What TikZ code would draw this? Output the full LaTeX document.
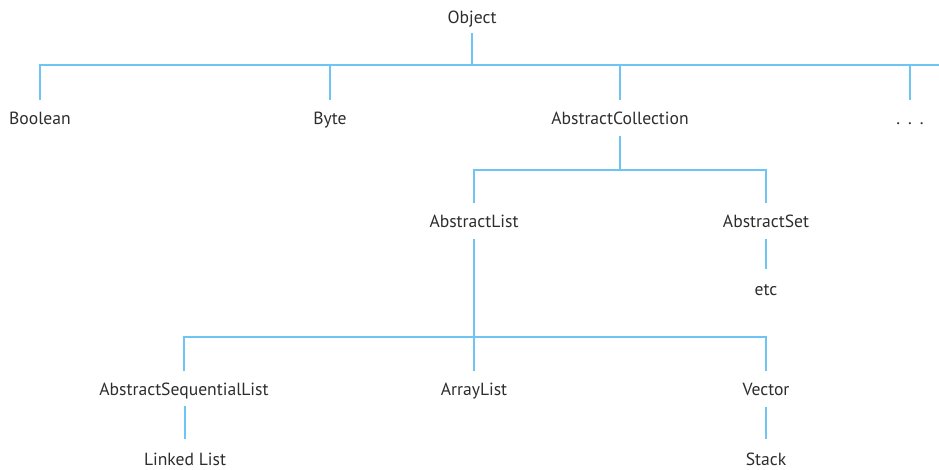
\documentclass[tikz,border=0pt]{standalone}
\usepackage{fontspec}
\setmainfont{PT Sans}
\definecolor{linecol}{RGB}{110,196,242}
\definecolor{txtcol}{RGB}{45,45,45}
\begin{document}
\begin{tikzpicture}[x=1pt,y=-1pt,
  lbl/.style={inner sep=0pt, minimum height=35pt, text=txtcol, font=\fontsize{17.6}{20}\selectfont, text height=12.5pt, text depth=0pt},
  conn/.style={draw=linecol, line width=1.9pt}]
\useasboundingbox (0,0) rectangle (939,470);
\node[lbl, minimum height=32pt] (obj) at (472,17) {Object};
\node[lbl] (bool) at (40,118) {Boolean};
\node[lbl] (byte) at (330,118) {Byte};
\node[lbl] (ac) at (620,118) {AbstractCollection};
\node[lbl] (dots) at (910,118) {.\hspace{0.45em}.\hspace{0.45em}.};
\node[lbl] (al) at (474,221) {AbstractList};
\node[lbl] (as) at (766,221) {AbstractSet};
\node[lbl, minimum height=40pt] (etc) at (766,289) {etc};
\node[lbl] (asl) at (184,389) {AbstractSequentialList};
\node[lbl] (arr) at (474,389) {ArrayList};
\node[lbl] (vec) at (766,389) {Vector};
\node[lbl, minimum height=40pt] (ll) at (185,459) {Linked List};
\node[lbl, minimum height=40pt] (stk) at (766,459) {Stack};
\coordinate (b1) at (939,65);
\coordinate (b2) at (766,170);
\coordinate (b3) at (766,337);
% level 1
\draw[conn] (obj.south) -- (obj.south |- b1);
\draw[conn] (bool.north) -- (bool.north |- b1) -- (b1);
\draw[conn] (byte.north) -- (byte.north |- b1);
\draw[conn] (ac.north) -- (ac.north |- b1);
\draw[conn] (dots.north) -- (dots.north |- b1);
% level 2
\draw[conn] (ac.south) -- (ac.south |- b2);
\draw[conn] (al.north) -- (al.north |- b2) -- (as.north |- b2) -- (as.north);
\draw[conn] (as.south) -- (etc.north);
% level 3
\draw[conn] (al.south) -- (al.south |- b3);
\draw[conn] (asl.north) -- (asl.north |- b3) -- (vec.north |- b3) -- (vec.north);
\draw[conn] (arr.north) -- (arr.north |- b3);
\draw[conn] (asl.south) -- (asl.south -| ll.north) -- (ll.north);
\draw[conn] (vec.south) -- (stk.north);
\end{tikzpicture}
\end{document}
